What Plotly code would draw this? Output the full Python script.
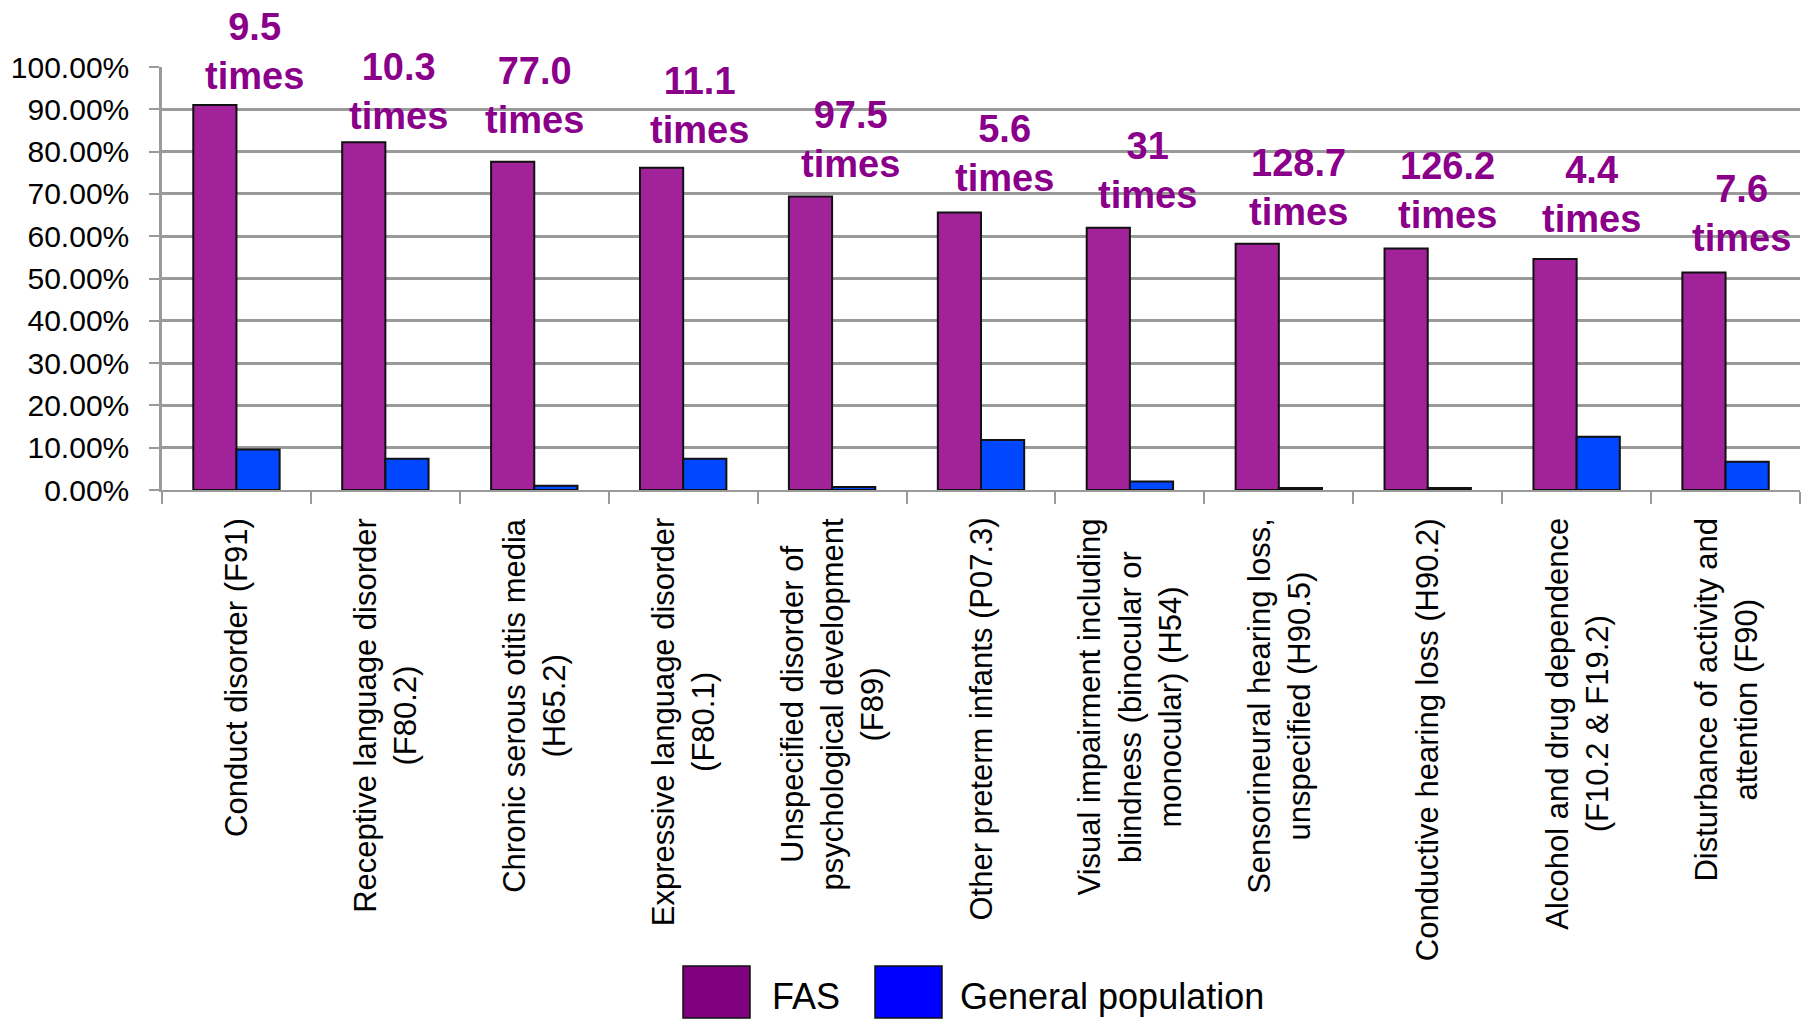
import plotly.graph_objects as go

# Conditions (ICD-10 codes) and prevalence (%) among people with FAS vs. the general population
categories = [
    "Conduct disorder (F91)",
    "Receptive language disorder (F80.2)",
    "Chronic serous otitis media (H65.2)",
    "Expressive language disorder (F80.1)",
    "Unspecified disorder of psychological development (F89)",
    "Other preterm infants (P07.3)",
    "Visual impairment including blindness (binocular or monocular) (H54)",
    "Sensorineural hearing loss, unspecified (H90.5)",
    "Conductive hearing loss (H90.2)",
    "Alcohol and drug dependence (F10.2 & F19.2)",
    "Disturbance of activity and attention (F90)",
]
tick_labels = [
    "Conduct disorder (F91)",
    "Receptive language disorder<br>(F80.2)",
    "Chronic serous otitis media<br>(H65.2)",
    "Expressive language disorder<br>(F80.1)",
    "Unspecified disorder of<br>psychological development<br>(F89)",
    "Other preterm infants (P07.3)",
    "Visual impairment including<br>blindness (binocular or<br>monocular) (H54)",
    "Sensorineural hearing loss,<br>unspecified (H90.5)",
    "Conductive hearing loss (H90.2)",
    "Alcohol and drug dependence<br>(F10.2 & F19.2)",
    "Disturbance of activity and<br>attention (F90)",
]
fas = [91.0, 82.2, 77.6, 76.2, 69.4, 65.6, 62.0, 58.2, 57.1, 54.6, 51.4]
general = [9.6, 7.4, 1.0, 7.4, 0.7, 11.8, 2.0, 0.45, 0.45, 12.6, 6.7]
ratio_text = ["9.5", "10.3", "77.0", "11.1", "97.5", "5.6", "31", "128.7", "126.2", "4.4", "7.6"]

# Small pixel nudges for the ratio callouts above each FAS bar
label_dx = [18, 13, 0, 16, 18, 23, 18, 20, 20, 15, 16]
label_dy = [6, 3, 19, 15, 9, 12, 10, 9, 10, 17, 12]

FAS_BAR = "#A2229A"
GEN_BAR = "#0047FF"
FAS_KEY = "#800080"
GEN_KEY = "#0000FF"
LABEL_COLOR = "#8A008A"
GRID = "#9A9A9A"
BASE_FONT = "Arial, Liberation Sans, sans-serif"

fig = go.Figure()
fig.add_trace(go.Bar(
    x=categories, y=fas, name="FAS",
    marker=dict(color=FAS_BAR, line=dict(color="#111111", width=2)),
    showlegend=False,
))
fig.add_trace(go.Bar(
    x=categories, y=general, name="General population",
    marker=dict(color=GEN_BAR, line=dict(color="#111111", width=2)),
    showlegend=False,
))

annotations = []
# Ratio callouts ("N times") above each group
for cat, val, txt, dx, dy in zip(categories, fas, ratio_text, label_dx, label_dy):
    annotations.append(dict(
        x=cat, y=val, xref="x", yref="y",
        text=f"<b>{txt}<br>times</b>",
        showarrow=False, xanchor="center", yanchor="bottom",
        xshift=dx, yshift=dy, align="center",
        font=dict(family=BASE_FONT, size=38, color=LABEL_COLOR),
    ))
# Rotated category labels under the axis
for cat, lab in zip(categories, tick_labels):
    annotations.append(dict(
        x=cat, y=0, xref="x", yref="paper",
        text=lab, showarrow=False, textangle=-90,
        xanchor="center", yanchor="top", yshift=-26, align="center",
        font=dict(family=BASE_FONT, size=31, color="#000000"),
    ))
# Legend text
annotations.append(dict(
    x=770, y=996, xref="paper", yref="paper", text="FAS", showarrow=False,
    xanchor="left", yanchor="middle",
    font=dict(family=BASE_FONT, size=36, color="#000000"),
))
annotations.append(dict(
    x=958, y=996, xref="paper", yref="paper", text="General population", showarrow=False,
    xanchor="left", yanchor="middle",
    font=dict(family=BASE_FONT, size=36, color="#000000"),
))

W, H = 1812, 1019
L, R, T, B = 162, 12, 67, 529
pw, ph = W - L - R, H - T - B


def px_to_paper(x, y):
    return (x - L) / pw, (H - B - y) / ph


for a in annotations[-2:]:
    a["x"], a["y"] = px_to_paper(a["x"], a["y"])

# Legend swatches
shapes = []
for (x0, x1), col in [((683, 750), FAS_KEY), ((875, 942), GEN_KEY)]:
    px0, py0 = px_to_paper(x0, 966)
    px1, py1 = px_to_paper(x1, 1018)
    shapes.append(dict(type="rect", xref="paper", yref="paper",
                       x0=px0, x1=px1, y0=py1, y1=py0,
                       fillcolor=col, line=dict(color="#111111", width=1.5)))

fig.update_layout(
    width=W, height=H,
    margin=dict(l=L, r=R, t=T, b=B, pad=0),
    paper_bgcolor="white", plot_bgcolor="white",
    barmode="group", bargap=0.42, bargroupgap=0,
    annotations=annotations, shapes=shapes,
    font=dict(family=BASE_FONT, size=30, color="#000000"),
)
fig.update_xaxes(
    type="category", showticklabels=False,
    showline=True, linecolor=GRID, linewidth=2,
    ticks="outside", tickson="boundaries", ticklen=12, tickwidth=2, tickcolor=GRID,
    showgrid=False,
)
fig.update_yaxes(
    range=[0, 100], dtick=10, tick0=0,
    tickformat=".2f", ticksuffix="%",
    showgrid=True, gridcolor=GRID, gridwidth=2.5,
    showline=True, linecolor=GRID, linewidth=2.5,
    ticks="outside", ticklen=10, tickwidth=2, tickcolor=GRID,
    ticklabelstandoff=14,
    tickfont=dict(family=BASE_FONT, size=30, color="#000000"),
    zeroline=False,
)

fig.write_html("out.html")
